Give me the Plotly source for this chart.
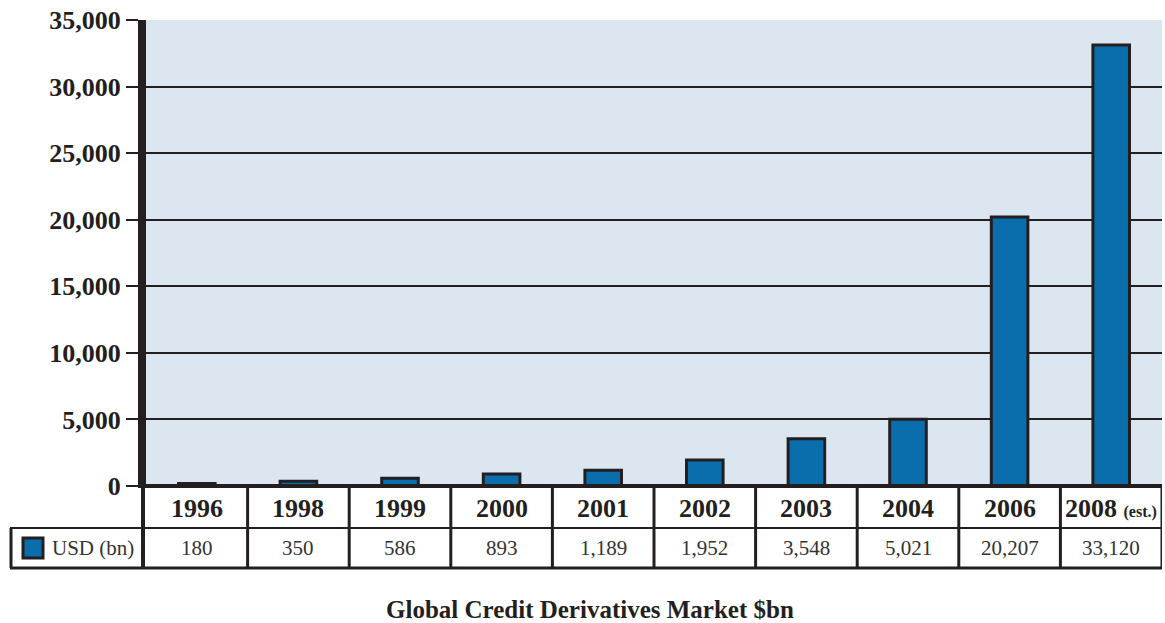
import plotly.graph_objects as go

years = ["1996", "1998", "1999", "2000", "2001", "2002", "2003", "2004", "2006", "2008"]
year_labels = ["1996", "1998", "1999", "2000", "2001", "2002", "2003", "2004", "2006",
               "2008 <span style='font-size:16px'>(est.)</span>"]
usd_bn = [180, 350, 586, 893, 1189, 1952, 3548, 5021, 20207, 33120]
value_labels = ["180", "350", "586", "893", "1,189", "1,952", "3,548", "5,021", "20,207", "33,120"]
y_ticks = [0, 5000, 10000, 15000, 20000, 25000, 30000, 35000]
y_tick_text = ["0", "5,000", "10,000", "15,000", "20,000", "25,000", "30,000", "35,000"]
series_name = "USD (bn)"
title_text = "Global Credit Derivatives Market $bn"

W, H = 1165, 623
L, R, T, B = 146, 3, 20, 137
PW, PH = W - L - R, H - T - B

def py(pix):  # pixel y -> paper y
    return (H - B - pix) / PH

def px(pix):  # pixel x -> paper x
    return (pix - L) / PW

BAR = "#0a6ead"
SERIF = "Liberation Serif, Times New Roman, serif"
INK = "#231f20"

fig = go.Figure()
fig.add_trace(go.Bar(
    x=years, y=usd_bn, name=series_name, width=0.36,
    marker=dict(color=BAR, line=dict(color=INK, width=3)),
    showlegend=False,
))

shapes = []
row_mid = py(528)
row_bot = py(568)
shapes.append(dict(type="line", xref="paper", yref="paper", x0=px(10), x1=1.0, y0=row_mid, y1=row_mid,
                   line=dict(color=INK, width=2)))
shapes.append(dict(type="line", xref="paper", yref="paper", x0=px(10), x1=1.0, y0=row_bot, y1=row_bot,
                   line=dict(color=INK, width=3)))
shapes.append(dict(type="line", xref="paper", yref="paper", x0=px(138), x1=1.0, y0=0, y1=0,
                   line=dict(color=INK, width=4)))
shapes.append(dict(type="line", xref="paper", yref="paper", x0=px(11), x1=px(11), y0=row_mid, y1=row_bot,
                   line=dict(color=INK, width=3)))
shapes.append(dict(type="line", xref="paper", yref="paper", x0=px(143), x1=px(143), y0=0, y1=row_bot,
                   line=dict(color=INK, width=4)))
for i in range(len(years)):
    xb = i + 0.5
    shapes.append(dict(type="line", xref="x", yref="paper", x0=xb, x1=xb, y0=0, y1=row_bot,
                       line=dict(color=INK, width=3)))
shapes.append(dict(type="rect", xref="paper", yref="paper", x0=px(23), x1=px(43), y0=py(558), y1=py(538),
                   fillcolor=BAR, line=dict(color=INK, width=3)))

annotations = []
for i, (lab, val) in enumerate(zip(year_labels, value_labels)):
    annotations.append(dict(x=i, xref="x", y=py(508), yref="paper", yanchor="middle",
                            text="<b>%s</b>" % lab,
                            showarrow=False, font=dict(family=SERIF, size=26, color=INK)))
    annotations.append(dict(x=i, xref="x", y=py(548), yref="paper", yanchor="middle", text=val,
                            showarrow=False, font=dict(family=SERIF, size=21, color="#333333")))
annotations.append(dict(x=px(50), xref="paper", y=py(548), yref="paper", yanchor="middle",
                        text=series_name, xanchor="left", showarrow=False,
                        font=dict(family=SERIF, size=21, color="#333333")))
annotations.append(dict(x=px(590), xref="paper", y=py(609), yref="paper", yanchor="middle",
                        text="<b>%s</b>" % title_text,
                        showarrow=False, font=dict(family=SERIF, size=25, color=INK)))

fig.update_layout(
    width=W, height=H,
    margin=dict(l=L, r=R, t=T, b=B, pad=0),
    paper_bgcolor="white",
    plot_bgcolor="#dbe6f1",
    shapes=shapes,
    annotations=annotations,
    xaxis=dict(type="category", range=[-0.5, len(years) - 0.5], showticklabels=False,
               showgrid=False, zeroline=False, ticks="", showline=False, fixedrange=True),
    yaxis=dict(range=[0, 35000], tickvals=y_ticks, ticktext=["<b>%s</b>" % t for t in y_tick_text],
               tickfont=dict(family=SERIF, size=26, color=INK),
               ticks="outside", ticklen=12, tickwidth=2, tickcolor=INK,
               showline=True, linewidth=8, linecolor=INK,
               showgrid=True, gridcolor=INK, gridwidth=2, zeroline=False, fixedrange=True),
    font=dict(family=SERIF, color=INK),
)

fig.write_html("out.html", config={"displayModeBar": False},
               post_script="document.body.style.margin='0';document.body.style.overflow='hidden';")
